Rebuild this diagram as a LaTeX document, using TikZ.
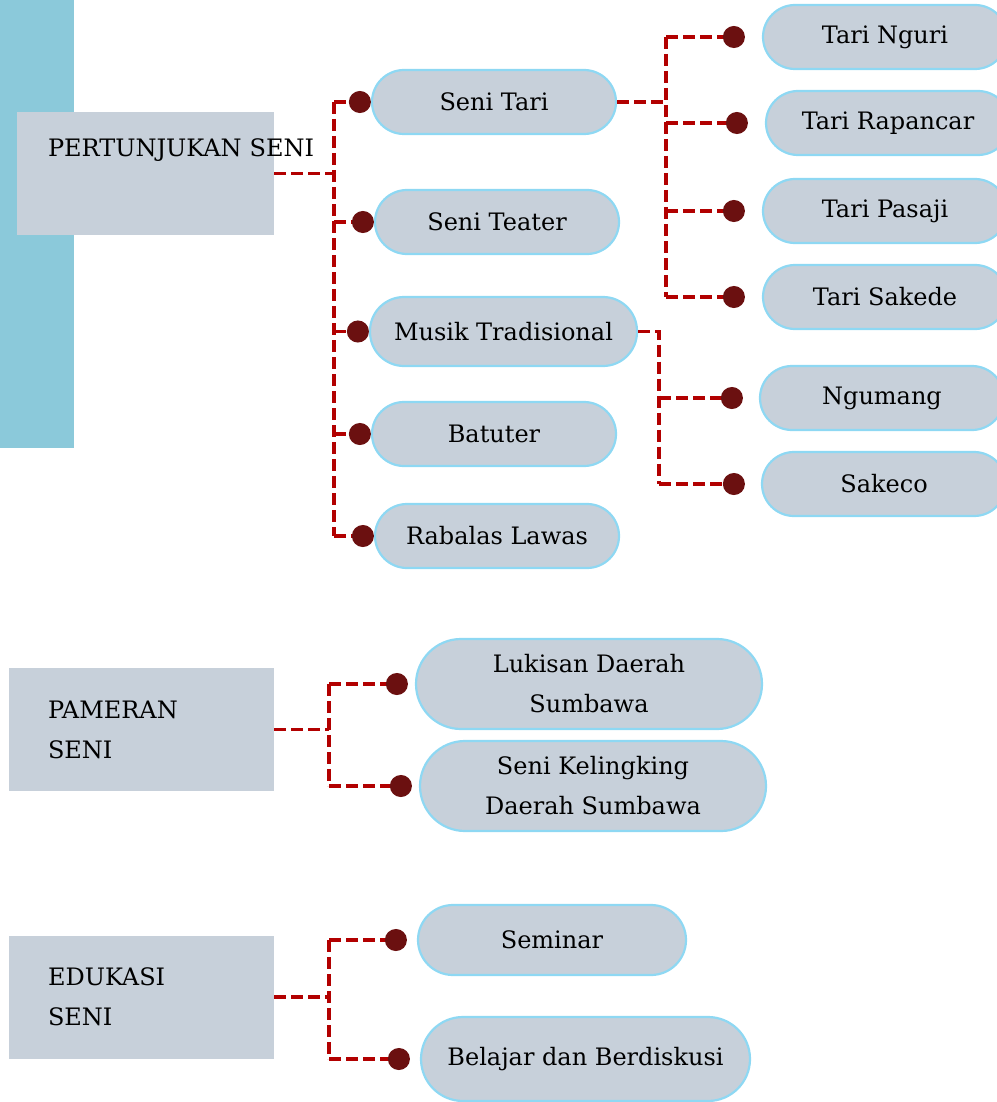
\documentclass[tikz,border=0pt]{standalone}
\usepackage{fontspec}
\setmainfont{DejaVu Serif}
\usetikzlibrary{arrows.meta,positioning}
\definecolor{barblue}{HTML}{8BC9DA}
\definecolor{boxgray}{HTML}{C7D0DA}
\definecolor{pillblue}{HTML}{8ED8F3}
\definecolor{linkred}{HTML}{B20000}
\definecolor{dotred}{HTML}{6B1010}

\begin{document}
\begin{tikzpicture}[
    x=1pt, y=-1pt,
    font=\fontsize{24}{40}\selectfont,
    catbox/.style={fill=boxgray, minimum height=123pt, align=left, inner ysep=0pt},
    pill/.style={draw=pillblue, line width=2.2pt, fill=boxgray, rounded corners=32pt, minimum width=244pt, minimum height=64pt, inner sep=0pt, align=center},
    link/.style={draw=linkred, line width=3.5pt, dash pattern=on 12pt off 5pt},
    dotlink/.style={link, -{Circle[length=22pt, color=dotred]}}
]
\useasboundingbox (0,0) rectangle (996,1102);

% side bar
\fill[barblue] (0,0) rectangle (74,448);

% Pertunjukan seni
\node[catbox, minimum width=257pt, text width=195pt, inner xsep=31pt] (ps) at (145.5,173.5) {\mbox{PERTUNJUKAN SENI}\\\strut};

\node[pill] (st) at (494,102) {Seni Tari};
\node[pill] (te) at (497,222) {Seni Teater};
\node[pill, minimum width=267pt, minimum height=69pt, rounded corners=34pt] (mt) at (503.5,331.5) {Musik Tradisional};
\node[pill] (bt) at (494,434) {Batuter};
\node[pill] (rl) at (497,536) {Rabalas Lawas};

\draw[link] (ps.east) -- ++(60,0) coordinate (psj);
\draw[link] (psj |- st.west) -- (psj |- rl.west);
\foreach \c in {st,te,mt,bt,rl}
  \draw[dotlink] (psj |- \c.west) -- (\c.west);

% jenis tari
\node[pill] (tn) at (885,37) {Tari Nguri};
\node[pill] (tr) at (888,123) {Tari Rapancar};
\node[pill] (tp) at (885,211) {Tari Pasaji};
\node[pill] (ts) at (885,297) {Tari Sakede};

\draw[link] (st.east) -- ++(49,0) coordinate (stj);
\draw[link] (stj |- tn.west) -- (stj |- ts.west);
\foreach \c in {tn,tr,tp,ts}
  \draw[dotlink, shorten >=17pt] (stj |- \c.west) -- (\c.west);

% musik tradisional
\node[pill] (ng) at (882,398) {Ngumang};
\node[pill] (sk) at (884,484) {Sakeco};

\draw[link] (mt.east) -- ++(21,0) coordinate (mtj) -- (mtj |- sk.west);
\foreach \c in {ng,sk}
  \draw[dotlink, shorten >=16pt] (mtj |- \c.west) -- (\c.west);

% Pameran seni
\node[catbox, minimum width=265pt, text width=187pt, inner xsep=39pt] (pm) at (141.5,729.5) {PAMERAN\\SENI};
\node[pill, minimum width=346pt, minimum height=90pt, rounded corners=45pt] (ld) at (589,684) {Lukisan Daerah\\Sumbawa};
\node[pill, minimum width=346pt, minimum height=90pt, rounded corners=45pt] (kl) at (593,786) {Seni Kelingking\\Daerah Sumbawa};

\draw[link] (pm.east) -- ++(55,0) coordinate (pmj);
\draw[link] (pmj |- ld.west) -- (pmj |- kl.west);
\foreach \c in {ld,kl}
  \draw[dotlink, shorten >=7pt] (pmj |- \c.west) -- (\c.west);

% Edukasi seni
\node[catbox, minimum width=265pt, text width=187pt, inner xsep=39pt] (es) at (141.5,997) {EDUKASI\\SENI};
\node[pill, minimum width=268pt, minimum height=70pt, rounded corners=35pt] (sm) at (552,940) {Seminar};
\node[pill, minimum width=329pt, minimum height=84pt, rounded corners=42pt] (bd) at (585.5,1059) {Belajar dan Berdiskusi};

\draw[link] (es.east) -- ++(55,0) coordinate (esj);
\draw[link] (esj |- sm.west) -- (esj |- bd.west);
\foreach \c in {sm,bd}
  \draw[dotlink, shorten >=10pt] (esj |- \c.west) -- (\c.west);

\end{tikzpicture}
\end{document}
